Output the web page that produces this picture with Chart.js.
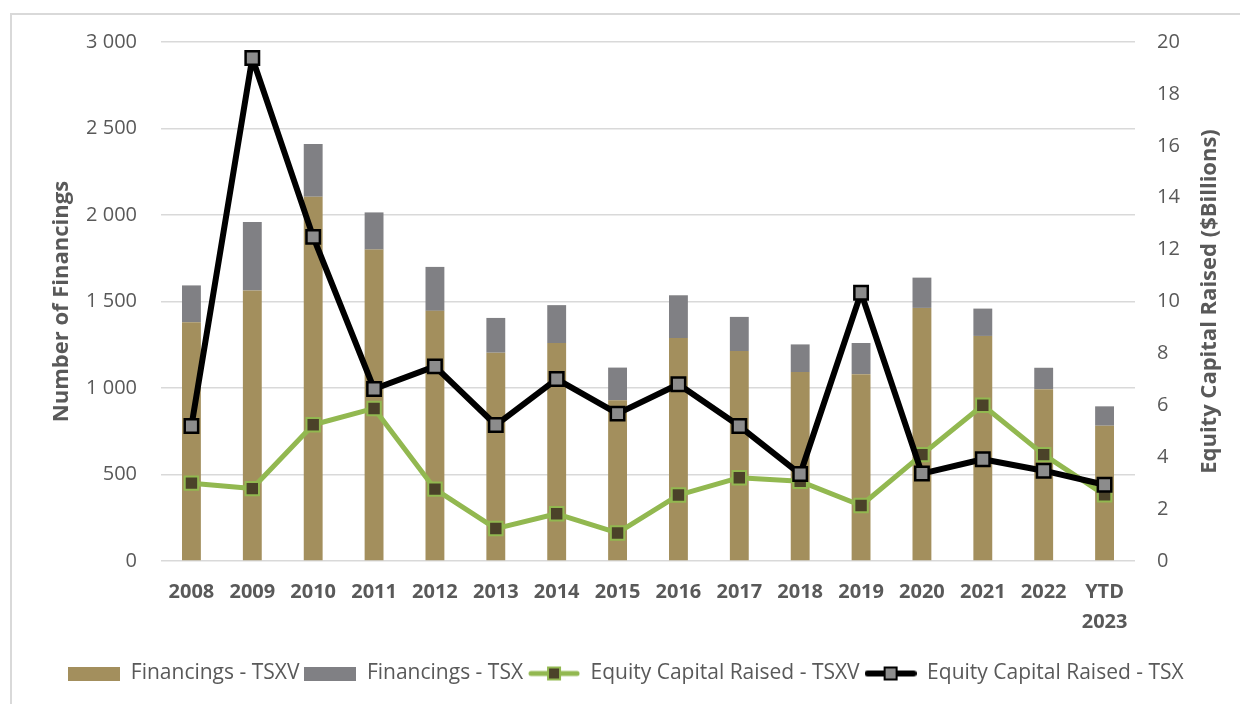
<!DOCTYPE html>
<html lang="en">
  <head>
    <meta charset="UTF-8">
    <title>Financings and Equity Capital Raised</title>
    <script src="https://cdn.jsdelivr.net/npm/chart.js@4.4.0/dist/chart.umd.min.js"></script>
    <style>
      body { margin: 0; background: #fff; }
      #wrap { position: relative; width: 1240px; height: 704px; overflow: hidden; }
      #frame { position: absolute; left: 10px; top: 13px; width: 1300px; height: 760px;
               border-left: 2px solid #d9d9d9; border-top: 2px solid #d9d9d9; pointer-events: none; }
    </style>
  </head>
  <body>
    <div id="wrap">
      <canvas id="chart" width="1240" height="704"></canvas>
      <div id="frame"></div>
    </div>
    <script type="text/javascript">
      const years = ['2008', '2009', '2010', '2011', '2012', '2013', '2014', '2015',
                     '2016', '2017', '2018', '2019', '2020', '2021', '2022', ['YTD', '2023']]
      const financingsTSXV = [1380, 1564, 2106, 1800, 1446, 1204, 1260, 929, 1289, 1214, 1092, 1080, 1463, 1301, 993, 782]
      const financingsTSX = [213, 395, 304, 215, 254, 201, 219, 189, 247, 197, 160, 180, 175, 158, 124, 112]
      const equityTSXV = [3.0, 2.79, 5.25, 5.88, 2.77, 1.25, 1.82, 1.08, 2.54, 3.21, 3.07, 2.14, 4.1, 6.0, 4.1, 2.55]
      const equityTSX = [5.2, 19.38, 12.49, 6.63, 7.5, 5.24, 7.01, 5.68, 6.81, 5.2, 3.35, 10.34, 3.37, 3.92, 3.48, 2.94]

      const FONT = "'Open Sans', sans-serif"
      const TEXT = '#595959'
      const TAN = '#a38f5d'
      const GREY = '#808084'
      const GREEN = '#92b850'

      // little pictures used as legend swatches
      function boxSwatch(color) {
        const c = document.createElement('canvas')
        c.width = 52; c.height = 14
        const g = c.getContext('2d')
        g.fillStyle = color
        g.fillRect(0, 0, 52, 14)
        return c
      }
      function lineSwatch(lineColor, lineWidth, fill, border) {
        const c = document.createElement('canvas')
        c.width = 52; c.height = 18
        const g = c.getContext('2d')
        g.strokeStyle = lineColor
        g.lineWidth = lineWidth
        g.lineCap = 'round'
        g.beginPath(); g.moveTo(3, 9); g.lineTo(49, 9); g.stroke()
        g.fillStyle = fill
        g.fillRect(20, 3, 12, 12)
        g.strokeStyle = border
        g.lineWidth = 2
        g.strokeRect(20, 3, 12, 12)
        return c
      }

      const rightTitle = {
        id: 'rightTitle',
        afterDraw(chart) {
          const a = chart.chartArea
          const ctx = chart.ctx
          ctx.save()
          ctx.translate(1210, (a.top + a.bottom) / 2)
          ctx.rotate(-Math.PI / 2)
          ctx.font = 'bold 22px ' + FONT
          ctx.fillStyle = TEXT
          ctx.textAlign = 'center'
          ctx.textBaseline = 'middle'
          ctx.fillText('Equity Capital Raised ($Billions)', 0, 0)
          ctx.restore()
        }
      }

      const ctx = document.getElementById('chart').getContext('2d')
      const chart = new Chart(ctx, {
        type: 'bar',
        data: {
          labels: years,
          datasets: [
            {
              label: 'Financings - TSXV',
              data: financingsTSXV,
              backgroundColor: TAN,
              yAxisID: 'y',
              order: 2,
              barPercentage: 0.5,
              categoryPercentage: 0.62,
              swatch: boxSwatch(TAN)
            },
            {
              label: 'Financings - TSX',
              data: financingsTSX,
              backgroundColor: GREY,
              yAxisID: 'y',
              order: 2,
              barPercentage: 0.5,
              categoryPercentage: 0.62,
              swatch: boxSwatch(GREY)
            },
            {
              type: 'line',
              label: 'Equity Capital Raised - TSXV',
              data: equityTSXV,
              yAxisID: 'y1',
              order: 1,
              borderColor: GREEN,
              borderWidth: 5,
              borderJoinStyle: 'round',
              pointStyle: 'rect',
              pointRadius: 9.5,
              pointBackgroundColor: '#4b4229',
              pointBorderColor: GREEN,
              pointBorderWidth: 2,
              tension: 0,
              swatch: lineSwatch(GREEN, 5, '#4b4229', GREEN)
            },
            {
              type: 'line',
              label: 'Equity Capital Raised - TSX',
              data: equityTSX,
              yAxisID: 'y1',
              order: 0,
              borderColor: '#000000',
              borderWidth: 6,
              borderJoinStyle: 'round',
              pointStyle: 'rect',
              pointRadius: 9.5,
              pointBackgroundColor: '#8c8c8c',
              pointBorderColor: '#000000',
              pointBorderWidth: 2.5,
              tension: 0,
              swatch: lineSwatch('#000000', 6, '#8c8c8c', '#000000')
            }
          ]
        },
        options: {
          responsive: false,
          animation: false,
          layout: { padding: { left: 12, right: 0, top: 42, bottom: 10 } },
          plugins: {
            tooltip: { enabled: false },
            legend: {
              position: 'bottom',
              labels: {
                font: { family: FONT, size: 21 },
                color: TEXT,
                usePointStyle: true,
                pointStyleWidth: 52,
                padding: 5,
                sort: (a, b) => a.datasetIndex - b.datasetIndex,
                generateLabels(chart) {
                  return chart.data.datasets.map((ds, i) => ({
                    text: ds.label,
                    pointStyle: ds.swatch,
                    fillStyle: 'transparent',
                    strokeStyle: 'transparent',
                    lineWidth: 0,
                    fontColor: TEXT,
                    datasetIndex: i
                  }))
                }
              }
            }
          },
          scales: {
            x: {
              stacked: true,
              grid: { display: false },
              border: { display: false },
              ticks: {
                color: TEXT,
                font: { family: FONT, size: 20, weight: 'bold', lineHeight: 1.5 },
                padding: 8,
                maxRotation: 0
              },
              afterFit(scale) { scale.height = 97 }
            },
            y: {
              stacked: true,
              position: 'left',
              min: 0,
              max: 3000,
              grid: { color: '#d9d9d9', lineWidth: 1.5, drawTicks: false },
              border: { display: false },
              ticks: {
                stepSize: 500,
                padding: 24,
                color: TEXT,
                font: { family: FONT, size: 20 },
                callback: v => String(v).replace(/\B(?=(\d{3})+(?!\d))/g, ' ')
              },
              title: {
                display: true,
                text: 'Number of Financings',
                color: TEXT,
                font: { family: FONT, size: 22, weight: 'bold' },
                padding: { top: 37, bottom: 0 }
              },
              afterFit(scale) { scale.width = 149 }
            },
            y1: {
              position: 'right',
              min: 0,
              max: 20,
              grid: { display: false, drawTicks: false },
              border: { display: false },
              ticks: {
                stepSize: 2,
                padding: 22,
                color: TEXT,
                font: { family: FONT, size: 20 }
              },
              afterFit(scale) { scale.width = 105 }
            }
          }
        },
        plugins: [rightTitle]
      })
    </script>
  </body>
</html>
